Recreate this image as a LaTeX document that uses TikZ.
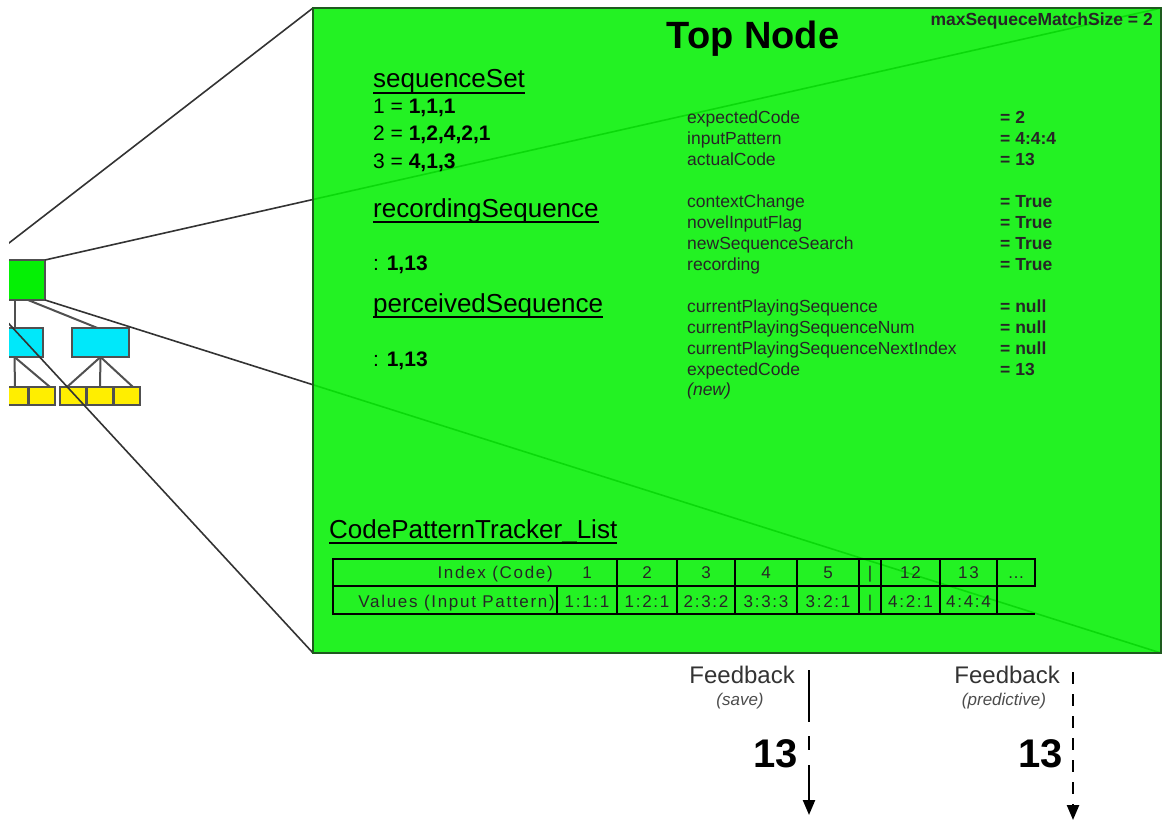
\documentclass[tikz,border=0pt]{standalone}
\usepackage{fontspec}
\setmainfont{Liberation Sans}
\newfontfamily\tablefont[LetterSpace=10]{Liberation Sans}
\usetikzlibrary{arrows.meta}

\definecolor{nodegreen}{RGB}{5,240,5}
\definecolor{nodecyan}{RGB}{0,232,250}
\definecolor{nodeyellow}{RGB}{255,238,0}
\definecolor{edgegray}{RGB}{80,80,80}
\definecolor{rimgreen}{RGB}{30,90,30}

\tikzset{
  tree/.style={draw=edgegray, line width=1.8pt, inner sep=0pt, outer sep=0pt},
  treeline/.style={draw=edgegray, line width=2pt},
  zoomline/.style={draw=black!80, line width=1.6pt},
  hdr/.style={anchor=base west, inner sep=0pt, font=\fontsize{26}{30}\selectfont},
  seq/.style={anchor=base west, inner sep=0pt, font=\fontsize{21}{24}\selectfont},
  var/.style={anchor=base west, inner sep=0pt, text=black!85, font=\fontsize{17.5}{20}\selectfont},
  cell/.style={anchor=base, inner sep=0pt, text=black!85, font=\tablefont\fontsize{17}{20}\selectfont},
  fb/.style={anchor=base east, inner sep=0pt, text=black!80, font=\fontsize{24}{28}\selectfont},
  fbnote/.style={anchor=base, inner sep=0pt, text=black!70, font=\fontsize{17}{19}\selectfont\itshape},
  fbcode/.style={anchor=base east, inner sep=0pt, font=\fontsize{40}{44}\selectfont\bfseries},
  fbtip/.style={-{Triangle[length=15pt,width=12pt]}, line width=2.3pt}
}

\begin{document}
\begin{tikzpicture}[x=1pt,y=-1pt]
  \useasboundingbox (0,0) rectangle (1166,821);
  \clip (9,0) rectangle (1166,821);

  % small tree on the left
  \node[tree, fill=nodegreen, minimum width=58pt, minimum height=40pt] (tnode) at (16,280) {};
  \node[tree, fill=nodecyan, minimum width=57pt, minimum height=29pt] (mid1) at (14.5,342.5) {};
  \node[tree, fill=nodecyan, minimum width=57pt, minimum height=29pt] (mid2) at (100.5,342.5) {};
  \foreach \i/\x in {2/15,3/42,4/73,5/100,6/127}
    \node[tree, fill=nodeyellow, minimum width=26pt, minimum height=18pt] (low\i) at (\x,396) {};

  \draw[treeline] (mid1.north |- tnode.south) -- (mid1.north);
  \draw[treeline] ([xshift=12pt]tnode.south) -- ([xshift=-3pt]mid2.north);
  \draw[treeline] (mid1.south) -- (low2.north);
  \draw[treeline] (mid1.south) -- ([xshift=8pt]low3.north);
  \draw[treeline] (mid2.south) -- ([xshift=-6pt]low4.north);
  \draw[treeline] (mid2.south) -- (low5.north);
  \draw[treeline] (mid2.south) -- ([xshift=6pt]low6.north);

  % zoomed top node
  \node[inner sep=0pt, outer sep=0pt, minimum width=848pt, minimum height=645pt] (zoom) at (737,330.5) {};
  \draw[zoomline] (tnode.north west) -- (zoom.north west);
  \draw[zoomline] (tnode.north east) -- (zoom.north east);
  \draw[zoomline] (tnode.south east) -- (zoom.south east);
  \draw[zoomline] (tnode.south west) -- (zoom.south west);
  \draw[draw=rimgreen, line width=2.2pt, fill=nodegreen, fill opacity=0.88] (zoom.north west) rectangle (zoom.south east);

  \node[anchor=base, inner sep=0pt, font=\fontsize{38}{40}\selectfont\bfseries] (title) at (753,49) {Top Node};
  \node[anchor=base east, inner sep=0pt, text=black!85, font=\fontsize{17.5}{19}\selectfont\bfseries] (maxsize) at (1153,26) {maxSequeceMatchSize = 2};

  \node[hdr] (seqset) at (373,88) {sequenceSet};
  \node[hdr] (recseq) at (373,217) {recordingSequence};
  \node[hdr] (perseq) at (373,312) {perceivedSequence};
  \node[hdr] (cptlist) at (329,538) {CodePatternTracker\_List};
  \foreach \h in {seqset,recseq,perseq,cptlist}
    \draw[line width=1.4pt] ([yshift=-5pt]\h.base west) -- ([yshift=-5pt]\h.base east);

  \node[seq] (set1) at (373,114) {1 = \textbf{1,1,1}};
  \node[seq] (set2) at (373,141) {2 = \textbf{1,2,4,2,1}};
  \node[seq] (set3) at (373,168) {3 = \textbf{4,1,3}};
  \node[seq] (recval) at (373,270) {: \textbf{1,13}};
  \node[seq] (perval) at (373,366) {: \textbf{1,13}};

  \foreach \name/\val/\y [count=\i] in {expectedCode/2/124, inputPattern/4:4:4/145, actualCode/13/166,
      contextChange/True/207, novelInputFlag/True/228, newSequenceSearch/True/249, recording/True/270,
      currentPlayingSequence/null/312, currentPlayingSequenceNum/null/333,
      currentPlayingSequenceNextIndex/null/354, expectedCode/13/375}
  {
    \node[var] (var\i) at (687,\y) {\name};
    \node[var, font=\fontsize{17.5}{20}\selectfont\bfseries] (val\i) at (1000,\y) {= \val};
  }
  \node[var, font=\fontsize{17.5}{20}\selectfont\itshape] (newnote) at (687,395) {(new)};

  % code pattern table
  \draw[line width=2.6pt] (333,559) rectangle (1035,586);
  \draw[line width=2.6pt] (333,586) rectangle (557,614);
  \draw[line width=1.8pt] (557,614) -- (1035,614);
  \foreach \x in {617,677,735,797,859,881,940,997}
  {
    \draw[line width=2.4pt] (\x,559) -- (\x,586);
    \draw[line width=1.6pt] (\x,586) -- (\x,614);
  }
  \node[cell, anchor=base east] (idxhead) at (553,578) {Index (Code)};
  \node[cell, anchor=base east] (valhead) at (555,607) {Values (Input Pattern)};
  \foreach \x/\code/\pat [count=\i] in {587/1/1:1:1, 647/2/1:2:1, 706/3/2:3:2, 766/4/3:3:3, 828/5/3:2:1,
      870/|/|, 910.5/12/4:2:1, 968.5/13/4:4:4, 1016/\ldots/{}}
  {
    \node[cell] (code\i) at (\x,578) {\code};
    \node[cell] (pat\i) at (\x,607) {\pat};
  }

  % feedback arrows
  \node[fb] (fbsave) at (795,683) {Feedback};
  \node[fbnote] (savenote) at (740,705) {(save)};
  \node[fbcode] (codesave) at (798,767) {13};
  \coordinate (savetop) at (809,670);
  \coordinate (savebot) at (809,815);
  \draw[fbtip, dash pattern=on 52pt off 14pt on 14pt off 15pt] (savetop) -- (savebot);

  \node[fb] (fbpred) at (1060,683) {Feedback};
  \node[fbnote] (prednote) at (1004,705) {(predictive)};
  \node[fbcode] (codepred) at (1063,767) {13};
  \coordinate (predtop) at (1073,672);
  \coordinate (predbot) at (1073,820);
  \draw[fbtip, dash pattern=on 12pt off 10pt] (predtop) -- (predbot);
\end{tikzpicture}
\end{document}
